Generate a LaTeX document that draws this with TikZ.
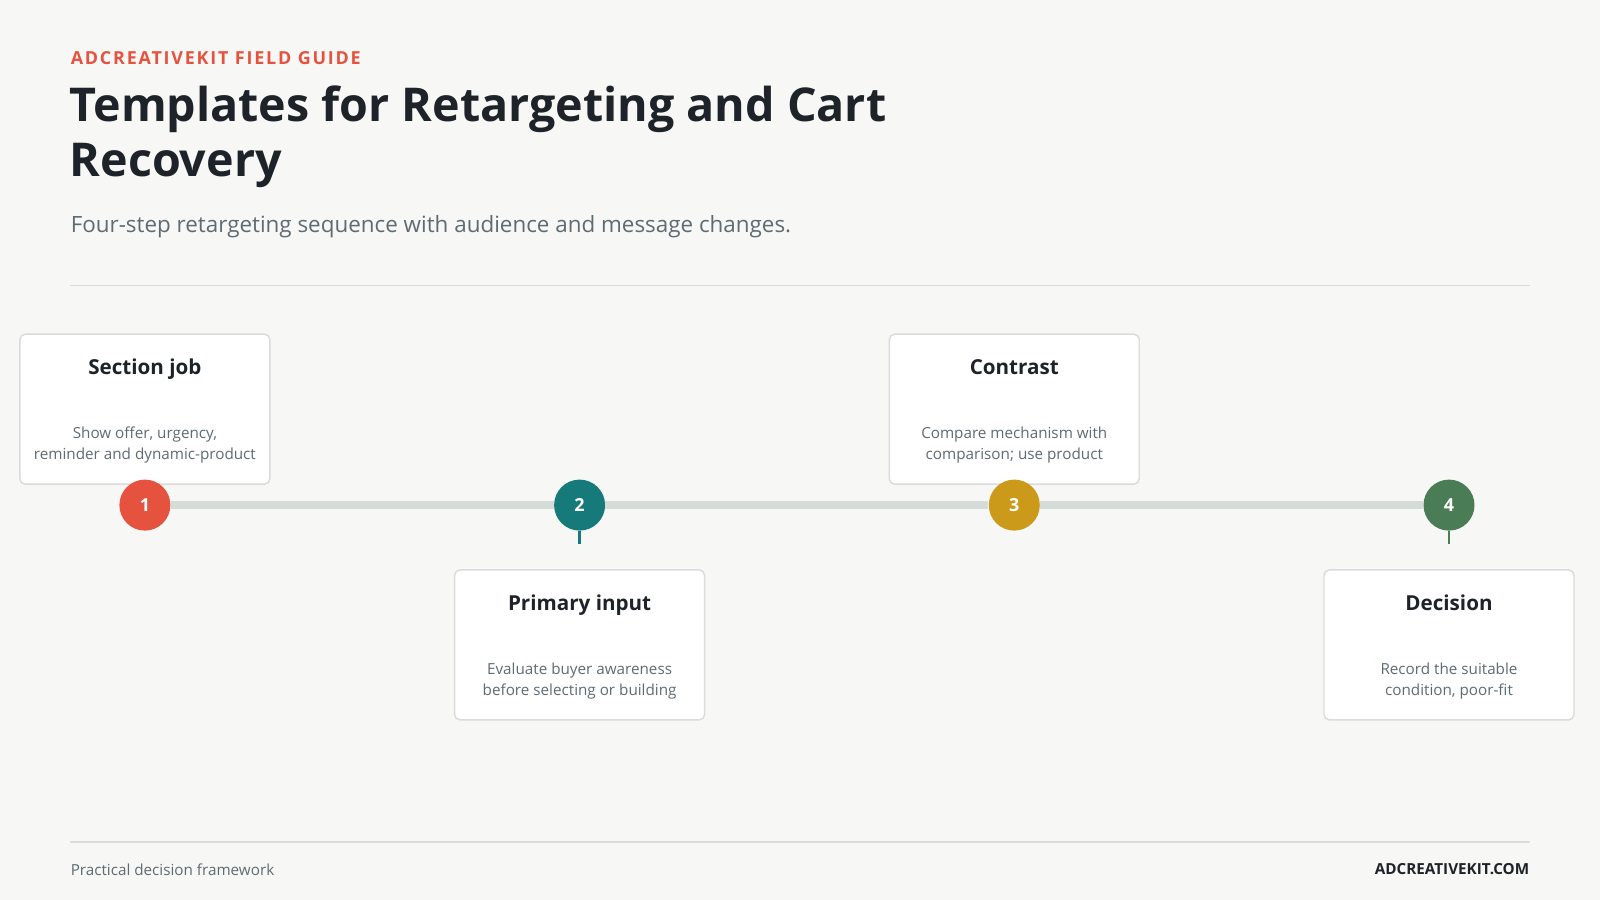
\documentclass[tikz,border=0pt]{standalone}
\usepackage{fontspec}
\setmainfont{Open Sans}
\usetikzlibrary{positioning}
\definecolor{bgc}{HTML}{F7F7F5}
\definecolor{ink}{HTML}{1E2329}
\definecolor{greytxt}{HTML}{5F6B73}
\definecolor{rulec}{HTML}{D9DCDA}
\definecolor{trackc}{HTML}{D5DBD8}
\definecolor{redc}{HTML}{E5533F}
\definecolor{tealc}{HTML}{167A7A}
\definecolor{goldc}{HTML}{CC9A1A}
\definecolor{greenc}{HTML}{4A7C55}
\tikzset{
  card/.style={draw=rulec, line width=0.8pt, fill=white, rounded corners=3pt,
    minimum width=4.9cm, minimum height=2.94cm},
  stepdot/.style={circle, minimum size=1cm, inner sep=0pt, text=white,
    font=\fontsize{10}{12}\selectfont\bfseries},
  cardtitle/.style={font=\fontsize{11.5}{14}\selectfont\bfseries, text=ink},
  cardbody/.style={font=\fontsize{8.5}{11.5}\selectfont, text=greytxt, align=center},
}
\begin{document}
\begin{tikzpicture}[x=0.02cm, y=-0.02cm]
\useasboundingbox[fill=bgc] (0,0) rectangle (1568,882);
% header
\node[anchor=west, inner sep=0pt, text=redc, font=\fontsize{10}{12}\selectfont\bfseries\addfontfeature{LetterSpace=10}] (kicker) at (69,57) {ADCREATIVEKIT FIELD GUIDE};
\node[anchor=north west, text=ink, align=left, font=\fontsize{26}{30.5}\selectfont\bfseries, inner sep=0pt] (title) at (68,84) {Templates for Retargeting and Cart\\Recovery};
\node[anchor=west, inner sep=0pt, text=greytxt, font=\fontsize{12.5}{15}\selectfont] (sub) at (69,222) {Four-step retargeting sequence with audience and message changes.};
\draw[rulec, line width=0.8pt] (69,280) -- (1499,280);
% cards
\node[card] (k1) at (142,401) {};
\node[card] (k2) at (568,632) {};
\node[card] (k3) at (994,401) {};
\node[card] (k4) at (1420,632) {};
\foreach \k/\t/\b in {k1/Section job/{Show offer, urgency,\\reminder and dynamic-product},
  k2/Primary input/{Evaluate buyer awareness\\before selecting or building},
  k3/Contrast/{Compare mechanism with\\comparison; use product},
  k4/Decision/{Record the suitable\\condition, poor-fit}}{
  \node[cardtitle, below=0.38cm of \k.north] (\k t) {\t};
  \node[cardbody, above=0.3cm of \k.south] (\k b) {\b};
}
% timeline
\node[stepdot, fill=redc] (s1) at (142,495) {1};
\node[stepdot, fill=tealc] (s2) at (568,495) {2};
\node[stepdot, fill=goldc] (s3) at (994,495) {3};
\node[stepdot, fill=greenc] (s4) at (1420,495) {4};
\draw[trackc, line width=4.5pt] (s1) -- (s2) -- (s3) -- (s4);
\coordinate (t2) at (568,533);
\coordinate (t4) at (1420,533);
\draw[tealc, line width=1.5pt] (s2) -- (t2);
\draw[greenc, line width=1.5pt] (s4) -- (t4);
% footer
\draw[rulec, line width=0.8pt] (69,825) -- (1499,825);
\node[anchor=west, inner sep=0pt, text=greytxt, font=\fontsize{8.5}{10}\selectfont] (foot) at (69,852) {Practical decision framework};
\node[anchor=east, inner sep=0pt, text=ink, font=\fontsize{8.5}{10}\selectfont\bfseries] (site) at (1499,852) {ADCREATIVEKIT.COM};
\end{tikzpicture}
\end{document}
